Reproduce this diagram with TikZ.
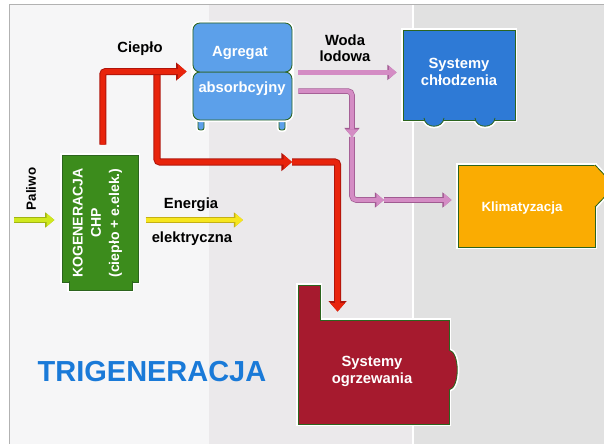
\documentclass[tikz,border=0pt]{standalone}
\usepackage{fontspec}
\setmainfont{Liberation Sans}
\usetikzlibrary{arrows.meta, positioning}

\definecolor{chpgreen}{RGB}{60,140,28}
\definecolor{agrblue}{RGB}{92,160,234}
\definecolor{coolblue}{RGB}{46,122,214}
\definecolor{climorange}{RGB}{250,172,2}
\definecolor{heatbrown}{RGB}{166,26,46}
\definecolor{trigblue}{RGB}{26,122,216}
\definecolor{boxedge}{RGB}{44,100,30}
\definecolor{heatred}{RGB}{232,36,12}
\definecolor{heatdark}{RGB}{176,20,10}
\definecolor{chillpink}{RGB}{212,140,196}
\definecolor{chilldark}{RGB}{160,90,145}
\definecolor{fuellime}{RGB}{208,232,30}
\definecolor{fueldark}{RGB}{160,180,20}
\definecolor{elecyellow}{RGB}{246,230,30}
\definecolor{elecdark}{RGB}{196,176,20}
\definecolor{paneleft}{RGB}{246,246,247}
\definecolor{panelmid}{RGB}{235,233,235}
\definecolor{panelright}{RGB}{225,225,225}

\tikzset{
	block/.style={draw=boxedge, line width=0.6pt, preaction={draw=white, line width=3pt}},
	plainblock/.style={draw=boxedge, line width=0.6pt},
	halo/.style={draw=white, line width=3pt},
	rim/.style={draw=boxedge, line width=0.6pt},
	txt/.style={font=\fontsize{10.5}{12}\selectfont\bfseries, align=center, inner sep=0pt},
	intxt/.style={txt, text=white},
	heat/.style={draw=heatred, line width=3.6pt, rounded corners=2pt, -{Triangle[length=6pt,width=10pt]},
		preaction={draw=heatdark, line width=5pt, -{Triangle[length=7.5pt,width=12.5pt]}}},
	chill/.style={draw=chillpink, line width=3pt, rounded corners=3pt, -{Triangle[length=5.5pt,width=9pt]},
		preaction={draw=chilldark, line width=4pt, -{Triangle[length=6.5pt,width=10.5pt]}}},
	fuel/.style={draw=fuellime, line width=3.4pt, -{Triangle[length=5.5pt,width=9pt]},
		preaction={draw=fueldark, line width=4.4pt, -{Triangle[length=6.5pt,width=10.5pt]}}},
	elec/.style={draw=elecyellow, line width=3.4pt, -{Triangle[length=5.5pt,width=9pt]},
		preaction={draw=elecdark, line width=4.4pt, -{Triangle[length=6.5pt,width=10.5pt]}}}
}

\begin{document}
\begin{tikzpicture}[x=0.025cm, y=-0.025cm]
	\useasboundingbox (0,0) rectangle (604,444);
	\clip (0,0) rectangle (604,444);
	\fill[white] (0,0) rectangle (604,444);
	\fill[paneleft] (9,4) rectangle (209,444);
	\fill[panelmid] (209,4) rectangle (413,444);
	\fill[panelright] (413,4) rectangle (604,444);
	\draw[white, line width=2pt] (413,4) -- (413,444);
	\draw[black!30, line width=0.7pt] (9,444) |- (604,4);
	
	% kogeneracja
	\draw[halo] (69,281) |- (132,290) -- (132,281);
	\node[block, fill=chpgreen, minimum width=1.9cm, minimum height=3.175cm] (kog) at (100,218.5) {};
	\fill[chpgreen] (69,281) rectangle (132,290);
	\draw[rim] (69,281) |- (132,290) -- (132,281);
	\node[intxt, rotate=90, font=\fontsize{10}{13}\selectfont\bfseries] (kogtxt) at (97.5,223) {KOGENERACJA\\CHP\\(ciepło + e.elek.)};
	
	% agregat absorpcyjny
	\foreach \lx in {198,279}
		\draw[block, fill=agrblue, rounded corners=1.5pt] (\lx,108) rectangle (\lx+6,130);
	\draw[halo, rounded corners=5pt] (193,23) rectangle (292,120);
	\node[plainblock, fill=agrblue, rounded corners=5pt, minimum width=2.475cm, minimum height=1.2cm] (agrbot) at (242.5,96) {};
	\node[plainblock, fill=agrblue, rounded corners=5pt, minimum width=2.475cm, minimum height=1.225cm] (agrtop) at (242.5,47.5) {};
	\node[intxt] (agrtxt1) at (240,53) {Agregat};
	\node[intxt] (agrtxt2) at (242,89) {absorbcyjny};
	
	% chlodzenie
	\foreach \bx in {424,475}
		\draw[halo] (\bx,118) .. controls (\bx+1,129) and (\bx+19,129) .. (\bx+20,118);
	\node[block, fill=coolblue, minimum width=2.8cm, minimum height=2.25cm] (chlodz) at (459,75) {};
	\foreach \bx in {424,475} {
		\fill[coolblue] (\bx,117) -- (\bx,118) .. controls (\bx+1,129) and (\bx+19,129) .. (\bx+20,118) -- (\bx+20,117) -- cycle;
		\draw[rim] (\bx,118) .. controls (\bx+1,129) and (\bx+19,129) .. (\bx+20,118);
	}
	\node[intxt] (chlodztxt) at (459,72) {Systemy\\chłodzenia};
	
	% klimatyzacja
	\draw[halo] (595,165) -- (615,186) -- (595,207);
	\node[block, fill=climorange, minimum width=3.425cm, minimum height=2.05cm] (klimat) at (526.5,206) {};
	\fill[climorange] (594,165.5) -- (595.5,165.5) -- (615,186) -- (595.5,206.5) -- (594,206.5) -- cycle;
	\draw[rim] (595,165) -- (615,186) -- (595,207);
	\node[intxt, font=\fontsize{9.5}{12}\selectfont\bfseries] (klimattxt) at (522,208) {Klimatyzacja};
	
	% ogrzewanie
	\draw[halo] (298,322) |- (320,285) -- (320,320);
	\draw[halo] (449,350) .. controls (460,352) and (460,388) .. (449,390);
	\node[block, fill=heatbrown, minimum width=3.775cm, minimum height=2.6cm] (ogrz) at (373.5,372) {};
	\fill[heatbrown] (298,285) rectangle (320,322);
	\fill[heatbrown] (447,350) -- (449,350) .. controls (460,352) and (460,388) .. (449,390) -- (447,390) -- cycle;
	\draw[rim] (298,322) |- (320,285) -- (320,320);
	\draw[rim] (449,350) .. controls (460,352) and (460,388) .. (449,390);
	\node[intxt] (ogrztxt) at (372,371) {Systemy\\ogrzewania};
	
	% opisy
	\node[txt] (cieplo) at (140,49) {Ciepło};
	\node[txt, font=\fontsize{10.5}{11.5}\selectfont\bfseries] (woda) at (345,48) {Woda\\lodowa};
	\node[txt] (energia) at (191,205) {Energia};
	\node[txt] (elektr) at (192,239) {elektryczna};
	\node[txt, rotate=90, font=\fontsize{9.5}{12}\selectfont\bfseries] (paliwo) at (31,189) {Paliwo};
	\node[txt, text=trigblue, font=\fontsize{20.6}{24}\selectfont\bfseries] (trig) at (152,372) {TRIGENERACJA};
	
	% cieplo
	\coordinate (split) at (157,72);
	\coordinate (heatmid) at (292,162);
	\draw[heat] (split) |- (heatmid);
	\draw[heat, shorten >=0.2cm] (heatmid) -| ([xshift=1cm]ogrz.north west);
	\draw[heat, shorten <=0.25cm, shorten >=0.15cm] ([xshift=2pt]kog.north) |- (agrbot.north west);
	
	% woda lodowa
	\coordinate (chillmid1) at (352,137);
	\coordinate (chillmid2) at (384,200);
	\draw[chill, shorten <=0.15cm, shorten >=0.15cm] (agrtop.south east) -- (agrtop.south east -| chlodz.west);
	\draw[chill, shorten <=0.15cm] ([yshift=3.5pt]agrbot.east) -| (chillmid1);
	\draw[chill] (chillmid1) |- (chillmid2);
	\draw[chill, shorten >=0.15cm] (chillmid2) -- (chillmid2 -| klimat.west);
	
	% paliwo, energia
	\coordinate (fuelin) at (14,220);
	\coordinate (elecout) at (243,220);
	\draw[fuel, shorten >=0.18cm] (fuelin) -- (fuelin -| kog.west);
	\draw[elec, shorten <=0.18cm] (elecout -| kog.east) -- (elecout);
\end{tikzpicture}
\end{document}
